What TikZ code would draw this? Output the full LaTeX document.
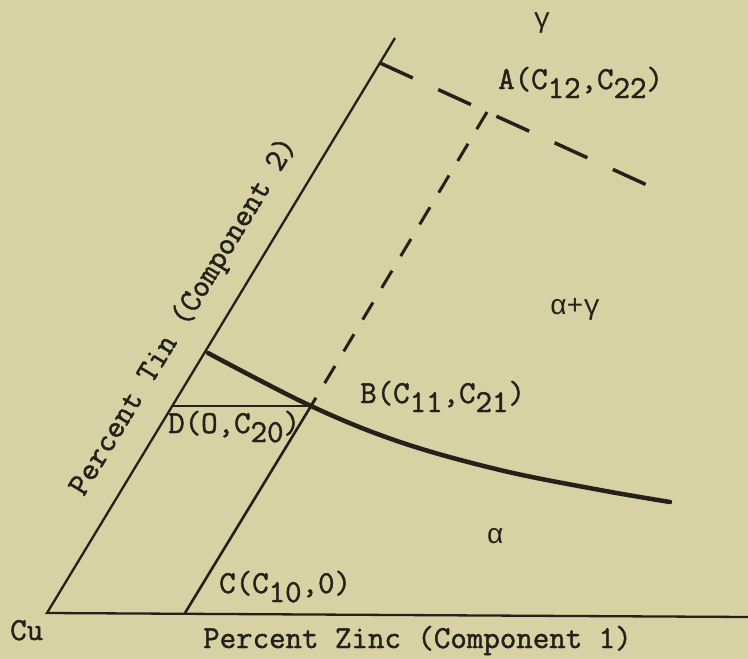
\documentclass[tikz,border=0pt]{standalone}
\usepackage{fontspec}
\newfontfamily\typewr[FakeBold=1.4]{Latin Modern Mono}
\newfontfamily\greekwr{Liberation Mono}
\usetikzlibrary{positioning}
\definecolor{paper}{RGB}{214,210,163}
\definecolor{ink}{RGB}{35,33,25}
\newcommand\lowr[1]{\raisebox{-9pt}{#1}}

\begin{document}
\begin{tikzpicture}[
  x=1pt, y=-1pt,
  axis/.style={ink, line width=2.3pt},
  tie/.style={ink, line width=2.6pt},
  bound/.style={ink, line width=4.5pt, line cap=round},
  longdash/.style={ink, line width=3.5pt, dash pattern=on 36pt off 28pt},
  shortdash/.style={ink, line width=3pt, dash pattern=on 20pt off 17pt},
  lbl/.style={font=\typewr\fontsize{32}{34}\selectfont, text=ink, inner sep=0pt, anchor=base west},
  glbl/.style={font=\greekwr\fontsize{28}{30}\selectfont, text=ink, inner sep=0pt},
]
  \fill[paper] (0,0) rectangle (748,659);
  \useasboundingbox (0,0) rectangle (748,659);

  % corner points of the diagram
  \coordinate (cu) at (47,613);
  \coordinate (tintop) at (395,38);
  \coordinate (zincend) at (748,617);
  \coordinate (c) at (185,613);
  \coordinate (b) at (311,406);
  \coordinate (a) at (487,112);
  \coordinate (d) at (173,406);
  \coordinate (s0) at (208,353);
  \coordinate (g0) at (380,63);
  \coordinate (g1) at (647,185);

  % axes
  \draw[axis] (zincend) -- (cu) -- (tintop);

  % tie lines
  \draw[tie] (c) -- (b);
  \draw[tie] (d) -- (b);
  \draw[shortdash] (a) -- (b);
  \draw[longdash] (g0) -- (g1);

  % alpha boundary
  \draw[bound] plot[smooth, tension=0.6] coordinates
    {(s0) (b) (400,442) (500,470) (600,490) (670,502)};

  % labels
  \node[glbl] (gam) at (542,23) {γ};
  \node[lbl] (alab) at (498,89) {A(C\lowr{12},C\lowr{22})};
  \node[glbl] (agam) at (575,309) {α+γ};
  \node[lbl] (blab) at (360,403) {B(C\lowr{11},C\lowr{21})};
  \node[lbl] (dlab) at (168,433) {D(O,C\lowr{20})};
  \node[glbl] (alph) at (495,536) {α};
  \node[lbl] (clab) at (219,593) {C(C\lowr{10},0)};
  \node[lbl] (culab) at (10,640) {Cu};
  \node[lbl] (zinclab) at (203,648) {Percent Zinc (Component 1)};
  \node[lbl, anchor=center, rotate=58.8] (tinlab) at (184,317) {Percent Tin (Component 2)};
\end{tikzpicture}
\end{document}
